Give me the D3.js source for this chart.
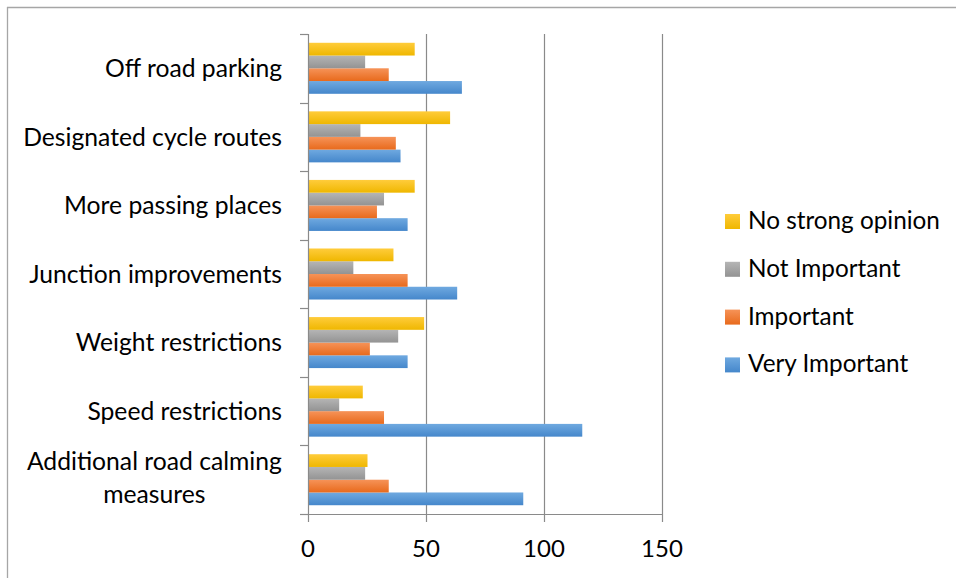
<!DOCTYPE html>
<html>
<head>
<meta charset="utf-8">
<script src="https://cdn.jsdelivr.net/npm/d3@7"></script>
<style>
  html, body { margin: 0; padding: 0; background: #fff; }
  svg { display: block; }
  text { font-family: Lato, "Open Sans", sans-serif; fill: #000; }
</style>
</head>
<body>
<svg id="chart" width="956" height="578"></svg>
<script>
// Categories, bottom to top as in the source chart
const categories = [
  "Additional road calming measures",
  "Speed restrictions",
  "Weight restrictions",
  "Junction improvements",
  "More passing places",
  "Designated cycle routes",
  "Off road parking"
];
const seriesNames = ["Very Important", "Important", "Not Important", "No strong opinion"];
const veryImportant   = [91, 116, 42, 63, 42, 39, 65];
const important       = [34, 32, 26, 42, 29, 37, 34];
const notImportant    = [24, 13, 38, 19, 32, 22, 24];
const noStrongOpinion = [25, 23, 49, 36, 45, 60, 45];
const xTicks = [0, 50, 100, 150];

const seriesValues = [veryImportant, important, notImportant, noStrongOpinion];
const colors = {
  "Very Important":    ["#6fa9e0", "#4587cb"],
  "Important":         ["#f69358", "#e86a1c"],
  "Not Important":     ["#b5b5b5", "#939393"],
  "No strong opinion": ["#ffcc3b", "#efb700"]
};

const svg = d3.select("#chart");
const defs = svg.append("defs");
seriesNames.forEach((s, i) => {
  const g = defs.append("linearGradient").attr("id", "grad" + i)
    .attr("x1", 0).attr("y1", 0).attr("x2", 0).attr("y2", 1);
  g.append("stop").attr("offset", "0%").attr("stop-color", colors[s][0]);
  g.append("stop").attr("offset", "100%").attr("stop-color", colors[s][1]);
});

// frame (top and left visible)
svg.append("line").attr("x1", 7).attr("x2", 956).attr("y1", 7.5).attr("y2", 7.5)
  .attr("stroke", "#a6a6a6").attr("stroke-width", 1.3);
svg.append("line").attr("x1", 7.5).attr("x2", 7.5).attr("y1", 7).attr("y2", 578)
  .attr("stroke", "#a6a6a6").attr("stroke-width", 1.3);

const plot = { left: 308, right: 662, top: 34, bottom: 514 };
const x = d3.scaleLinear().domain([0, 150]).range([plot.left, plot.right]);
const y = d3.scaleBand().domain(categories.slice().reverse()).range([plot.top, plot.bottom]).padding(0);
const bw = y.bandwidth();
// inner: top to bottom = No strong opinion, Not Important, Important, Very Important
const inner = d3.scaleBand().domain(seriesNames.slice().reverse())
  .range([bw * 0.128, bw * 0.872]).padding(0);

const axisColor = "#8a8a8a";

// gridlines
svg.append("g").selectAll("line").data(xTicks.filter(t => t > 0)).join("line")
  .attr("x1", d => Math.round(x(d)) + 0.5).attr("x2", d => Math.round(x(d)) + 0.5)
  .attr("y1", plot.top).attr("y2", plot.bottom + 8)
  .attr("stroke", axisColor).attr("stroke-width", 1.2);

// bars
const rows = categories.map((c, ci) => ({ c, vals: seriesNames.map((s, si) => ({ s, si, v: seriesValues[si][ci] })) }));
const gRows = svg.append("g").selectAll("g").data(rows).join("g")
  .attr("transform", d => `translate(0,${y(d.c)})`);
gRows.selectAll("rect").data(d => d.vals).join("rect")
  .attr("x", x(0) + 0.5)
  .attr("y", d => inner(d.s))
  .attr("height", inner.bandwidth())
  .attr("width", d => x(d.v) - x(0))
  .attr("fill", d => `url(#grad${d.si})`);

// y axis line and boundary ticks
svg.append("line").attr("x1", Math.round(x(0)) + 0.5).attr("x2", Math.round(x(0)) + 0.5)
  .attr("y1", plot.top).attr("y2", plot.bottom + 8)
  .attr("stroke", axisColor).attr("stroke-width", 1.2);
const bounds = categories.slice().reverse().map(c => y(c)).concat([plot.bottom]);
svg.append("g").selectAll("line").data(bounds).join("line")
  .attr("x1", x(0) - 8).attr("x2", x(0))
  .attr("y1", d => Math.round(d) + 0.5).attr("y2", d => Math.round(d) + 0.5)
  .attr("stroke", axisColor).attr("stroke-width", 1.2);

// x axis line
svg.append("line").attr("x1", x(0) - 8).attr("x2", x(150) + 0.5)
  .attr("y1", plot.bottom + 0.5).attr("y2", plot.bottom + 0.5)
  .attr("stroke", axisColor).attr("stroke-width", 1.2);

// x tick labels
svg.append("g").selectAll("text").data(xTicks).join("text")
  .attr("x", d => x(d)).attr("y", 557)
  .attr("text-anchor", "middle").style("font-size", "24px")
  .text(d => d);

// category labels
const labelSize = 24.7;
const labelRight = 282;
categories.forEach(c => {
  const cy = y(c) + bw / 2;
  if (c === "Additional road calming measures") {
    const t = svg.append("text").attr("text-anchor", "middle").style("font-size", labelSize + "px");
    const lines = ["Additional road calming", "measures"];
    t.append("tspan").attr("x", 0).attr("y", cy - 18.5 + labelSize * 0.36).text(lines[0]);
    t.append("tspan").attr("x", 0).attr("y", cy + 14.5 + labelSize * 0.36).text(lines[1]);
    const w = t.node().getBBox().width;
    t.selectAll("tspan").attr("x", labelRight - w / 2);
  } else {
    svg.append("text").attr("x", labelRight).attr("y", cy + labelSize * 0.36)
      .attr("text-anchor", "end").style("font-size", labelSize + "px").text(c);
  }
});

// legend
const legendOrder = seriesNames.slice().reverse();
const lg = svg.append("g").selectAll("g").data(legendOrder).join("g")
  .attr("transform", (d, i) => `translate(725,${229 + i * 47.8})`);
lg.append("rect").attr("x", 0).attr("y", -15).attr("width", 15).attr("height", 15)
  .attr("fill", d => `url(#grad${seriesNames.indexOf(d)})`);
lg.append("text").attr("x", 23).attr("y", 0).style("font-size", "24.3px").text(d => d);
</script>
</body>
</html>
